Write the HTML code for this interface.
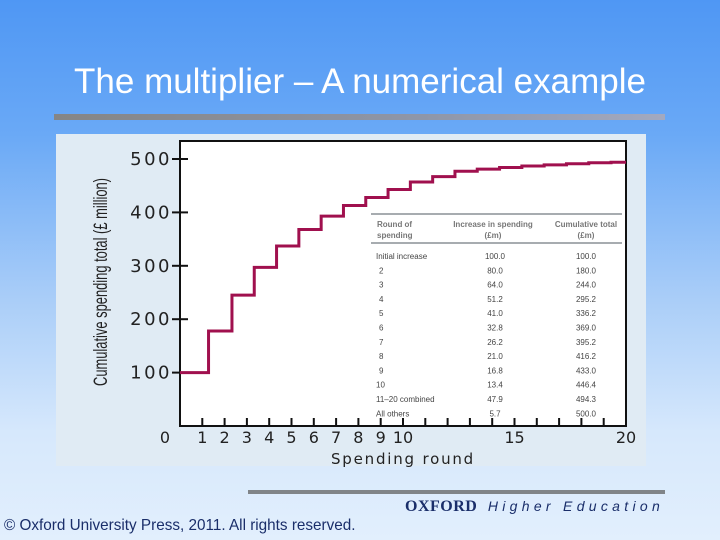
<!DOCTYPE html>
<html><head><meta charset="utf-8"><style>
body{margin:0;width:720px;height:540px;overflow:hidden;font-family:"Liberation Sans",sans-serif;}
#bg{position:absolute;left:0;top:0;width:720px;height:540px;background:linear-gradient(#4f97f4 0%,#6aa9f6 25%,#a9cdf8 55%,#d6e8fc 80%,#e2effd 100%);}
</style></head><body>
<div id="bg"></div>
<div style="position:absolute;left:0;width:720px;top:61px;text-align:center;color:#fff;font-size:35px;line-height:42px;">The multiplier – A numerical example</div>
<div style="position:absolute;left:54px;top:114px;width:611px;height:6px;background:linear-gradient(90deg,#858585,#8e96a8 60%,#a2a9c0);"></div>
<div style="position:absolute;left:56px;top:134px;width:590px;height:332px;background:#e0ebf4;"></div>
<svg id="chart" width="720" height="540" style="position:absolute;left:0;top:0" xmlns="http://www.w3.org/2000/svg"></svg>
<div style="position:absolute;left:248px;top:490px;width:417px;height:4px;background:#808488;"></div>
<div style="position:absolute;left:405px;top:498px;font-family:'Liberation Serif',serif;font-size:16px;color:#1a2e6a;font-weight:bold;letter-spacing:0.5px;white-space:nowrap;">OXFORD <span style="font-family:'Liberation Sans',sans-serif;font-weight:normal;font-style:italic;letter-spacing:4.3px;font-size:14px;margin-left:6px;">Higher Education</span></div>
<div style="position:absolute;left:4px;top:517px;font-size:16px;color:#1a2e6a;white-space:nowrap;transform:scaleX(0.955);transform-origin:left;">© Oxford University Press, 2011. All rights reserved.</div>
<script>
const yTicks=[100,200,300,400,500];
const xTickLabels=["0","1","2","3","4","5","6","7","8","9","10","15","20"];
const xTickValues=[0,1,2,3,4,5,6,7,8,9,10,15,20];
const cumulative=[100,178,245,297,337,368,393,413,428,443,457,467,477,481,484,487,489,491,493,494,494];
const stepOffset=0.33;
const tableRounds=["Initial increase","2","3","4","5","6","7","8","9","10","11–20 combined","All others"];
const tableIncrease=["100.0","80.0","64.0","51.2","41.0","32.8","26.2","21.0","16.8","13.4","47.9","5.7"];
const tableTotal=["100.0","180.0","244.0","295.2","336.2","369.0","395.2","416.2","433.0","446.4","494.3","500.0"];
const L=180,R=626,T=141,B=426;
const xs=v=>L+v*(R-L)/20, ys=v=>B-v*(B-159)/500;
const svg=document.getElementById('chart');const NS="http://www.w3.org/2000/svg";
function mk(t,a,p){const e=document.createElementNS(NS,t);for(const k in a)e.setAttribute(k,a[k]);(p||svg).appendChild(e);return e;}
const bx=mk('rect',{x:L,y:T,width:R-L,height:B-T,fill:'#fff',stroke:'#111','stroke-width':2});


yTicks.forEach(v=>{const y=ys(v);
const tk=mk('line',{x1:L-8,x2:L+8,y1:y,y2:y,stroke:'#111','stroke-width':2});


const t=mk('text',{x:L-8,y:y+6,'text-anchor':'end','font-size':18,fill:'#222','letter-spacing':'2.5','font-family':'DejaVu Sans'});t.textContent=v;

});
for(let i=1;i<20;i++){const x=xs(i);const tk=mk('line',{x1:x,x2:x,y1:B-8,y2:B,stroke:'#111','stroke-width':2});

}
xTickValues.forEach((v,i)=>{let x=xs(v);if(v===0)x=L-15;
const t=mk('text',{x:x,y:B+17,'text-anchor':'middle','font-size':16,fill:'#222','font-family':'DejaVu Sans'});t.textContent=xTickLabels[i];

});
const xt=mk('text',{x:403,y:464,'text-anchor':'middle','font-size':15,fill:'#222','letter-spacing':'1.8','font-family':'DejaVu Sans'});xt.textContent='Spending round';


const yt=mk('text',{x:0,y:0,'text-anchor':'middle','font-size':17,fill:'#222',transform:'translate(107,282) rotate(-90) scale(0.76,1.15)'});yt.textContent='Cumulative spending total (£ million)';


let d='M'+xs(0)+','+ys(cumulative[0]);
for(let i=1;i<cumulative.length;i++){const x=xs(i+stepOffset-(i===1?0.05:0));if(i+stepOffset>20)break;d+=' H'+x+' V'+ys(cumulative[i]);}
d+=' H'+xs(20);
const ln=mk('path',{d:d,fill:'none',stroke:'#a0104e','stroke-width':3});


const tg=mk('g',{});


mk('line',{x1:371,x2:622,y1:214,y2:214,stroke:'#8a9096','stroke-width':1.5},tg);
mk('line',{x1:371,x2:622,y1:243,y2:243,stroke:'#8a9096','stroke-width':1.5},tg);
const hx=[377,493,586],anc=['start','middle','middle'];
const hdr=[["Round of","spending"],["Increase in spending","(£m)"],["Cumulative total","(£m)"]];
hdr.forEach((h,i)=>h.forEach((s,j)=>{const t=mk('text',{x:hx[i],y:227+j*11,'text-anchor':anc[i],'font-size':8,'font-weight':'bold',fill:'#777'},tg);t.textContent=s;}));
tableRounds.forEach((r,i)=>{const y=259+i*14.3;
const a=mk('text',{x:i===0||i>=9?376:379,y:y,'font-size':8,fill:'#444'},tg);a.textContent=r;
const b=mk('text',{x:495,y:y,'text-anchor':'middle','font-size':8,fill:'#444'},tg);b.textContent=tableIncrease[i];
const c=mk('text',{x:586,y:y,'text-anchor':'middle','font-size':8,fill:'#444'},tg);c.textContent=tableTotal[i];});
</script>
</body></html>
